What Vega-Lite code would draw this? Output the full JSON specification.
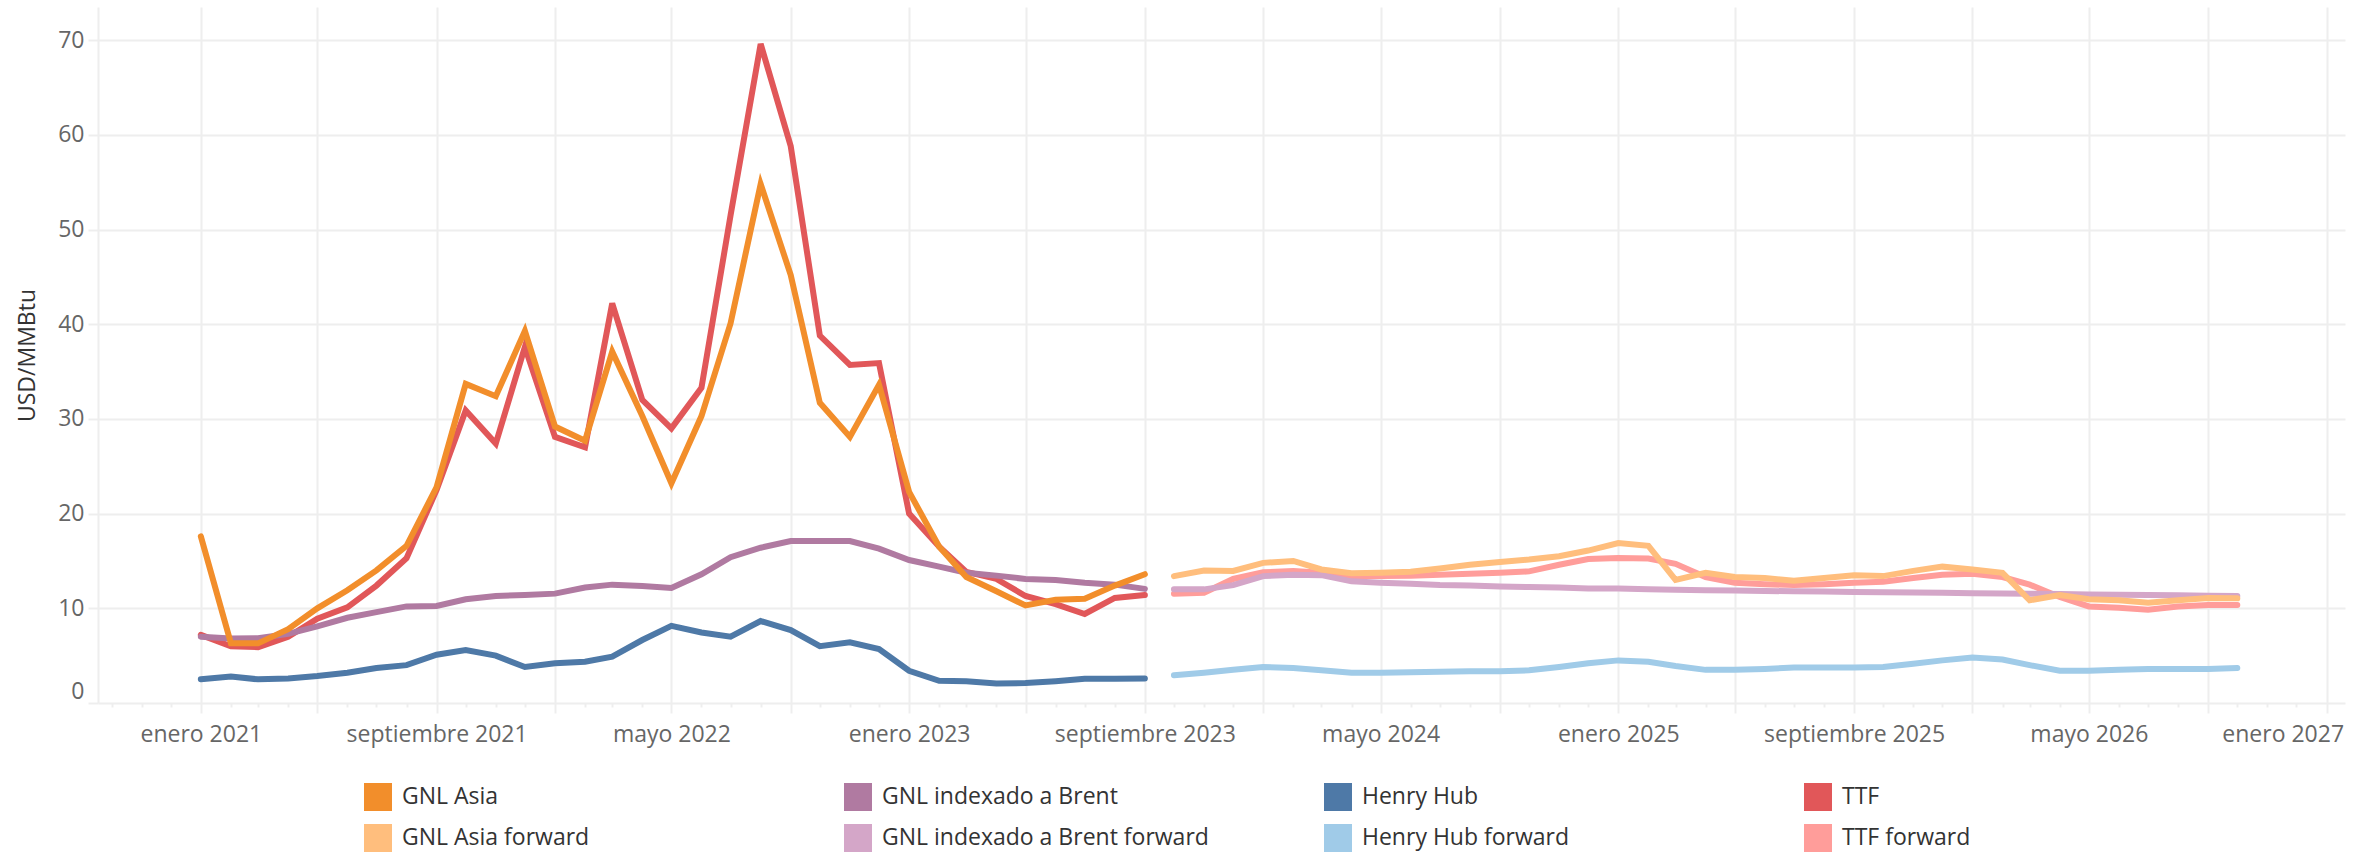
{
"$schema": "https://vega.github.io/schema/vega-lite/v6.json",
"width": 2247, "height": 696,
"autosize": {"type": "none"},
"padding": {"left": 98, "top": 7, "right": 29, "bottom": 151},
"background": "white",
"config": {"view": {"stroke": null}, "font": "Open Sans"},
"data": {"values": [
{"fecha":"2021-01-01","serie":"GNL Asia","valor":17.6},{"fecha":"2021-02-01","serie":"GNL Asia","valor":6.3},{"fecha":"2021-03-01","serie":"GNL Asia","valor":6.3},{"fecha":"2021-04-01","serie":"GNL Asia","valor":7.8},{"fecha":"2021-05-01","serie":"GNL Asia","valor":10.0},{"fecha":"2021-06-01","serie":"GNL Asia","valor":11.9},{"fecha":"2021-07-01","serie":"GNL Asia","valor":14.0},{"fecha":"2021-08-01","serie":"GNL Asia","valor":16.6},{"fecha":"2021-09-01","serie":"GNL Asia","valor":22.8},{"fecha":"2021-10-01","serie":"GNL Asia","valor":33.7},{"fecha":"2021-11-01","serie":"GNL Asia","valor":32.4},{"fecha":"2021-12-01","serie":"GNL Asia","valor":39.3},
{"fecha":"2022-01-01","serie":"GNL Asia","valor":29.2},{"fecha":"2022-02-01","serie":"GNL Asia","valor":27.7},{"fecha":"2022-03-01","serie":"GNL Asia","valor":37.1},{"fecha":"2022-04-01","serie":"GNL Asia","valor":30.3},{"fecha":"2022-05-01","serie":"GNL Asia","valor":23.2},{"fecha":"2022-06-01","serie":"GNL Asia","valor":30.3},{"fecha":"2022-07-01","serie":"GNL Asia","valor":40.1},{"fecha":"2022-08-01","serie":"GNL Asia","valor":54.8},{"fecha":"2022-09-01","serie":"GNL Asia","valor":45.2},{"fecha":"2022-10-01","serie":"GNL Asia","valor":31.7},{"fecha":"2022-11-01","serie":"GNL Asia","valor":28.1},{"fecha":"2022-12-01","serie":"GNL Asia","valor":33.6},
{"fecha":"2023-01-01","serie":"GNL Asia","valor":22.3},{"fecha":"2023-02-01","serie":"GNL Asia","valor":16.5},{"fecha":"2023-03-01","serie":"GNL Asia","valor":13.3},{"fecha":"2023-04-01","serie":"GNL Asia","valor":11.8},{"fecha":"2023-05-01","serie":"GNL Asia","valor":10.3},{"fecha":"2023-06-01","serie":"GNL Asia","valor":10.9},{"fecha":"2023-07-01","serie":"GNL Asia","valor":11.0},{"fecha":"2023-08-01","serie":"GNL Asia","valor":12.4},{"fecha":"2023-09-01","serie":"GNL Asia","valor":13.6},
{"fecha":"2021-01-01","serie":"TTF","valor":7.2},{"fecha":"2021-02-01","serie":"TTF","valor":6.0},{"fecha":"2021-03-01","serie":"TTF","valor":5.9},{"fecha":"2021-04-01","serie":"TTF","valor":7.0},{"fecha":"2021-05-01","serie":"TTF","valor":8.9},{"fecha":"2021-06-01","serie":"TTF","valor":10.1},{"fecha":"2021-07-01","serie":"TTF","valor":12.4},{"fecha":"2021-08-01","serie":"TTF","valor":15.3},{"fecha":"2021-09-01","serie":"TTF","valor":22.5},{"fecha":"2021-10-01","serie":"TTF","valor":30.9},{"fecha":"2021-11-01","serie":"TTF","valor":27.4},{"fecha":"2021-12-01","serie":"TTF","valor":37.6},
{"fecha":"2022-01-01","serie":"TTF","valor":28.1},{"fecha":"2022-02-01","serie":"TTF","valor":27.0},{"fecha":"2022-03-01","serie":"TTF","valor":42.2},{"fecha":"2022-04-01","serie":"TTF","valor":32.0},{"fecha":"2022-05-01","serie":"TTF","valor":29.0},{"fecha":"2022-06-01","serie":"TTF","valor":33.3},{"fecha":"2022-07-01","serie":"TTF","valor":51.5},{"fecha":"2022-08-01","serie":"TTF","valor":69.6},{"fecha":"2022-09-01","serie":"TTF","valor":58.8},{"fecha":"2022-10-01","serie":"TTF","valor":38.8},{"fecha":"2022-11-01","serie":"TTF","valor":35.7},{"fecha":"2022-12-01","serie":"TTF","valor":35.9},
{"fecha":"2023-01-01","serie":"TTF","valor":20.0},{"fecha":"2023-02-01","serie":"TTF","valor":16.5},{"fecha":"2023-03-01","serie":"TTF","valor":13.85},{"fecha":"2023-04-01","serie":"TTF","valor":13.1},{"fecha":"2023-05-01","serie":"TTF","valor":11.3},{"fecha":"2023-06-01","serie":"TTF","valor":10.45},{"fecha":"2023-07-01","serie":"TTF","valor":9.4},{"fecha":"2023-08-01","serie":"TTF","valor":11.1},{"fecha":"2023-09-01","serie":"TTF","valor":11.4},
{"fecha":"2021-01-01","serie":"GNL indexado a Brent","valor":7.0},{"fecha":"2021-02-01","serie":"GNL indexado a Brent","valor":6.8},{"fecha":"2021-03-01","serie":"GNL indexado a Brent","valor":6.85},{"fecha":"2021-04-01","serie":"GNL indexado a Brent","valor":7.3},{"fecha":"2021-05-01","serie":"GNL indexado a Brent","valor":8.1},{"fecha":"2021-06-01","serie":"GNL indexado a Brent","valor":9.0},{"fecha":"2021-07-01","serie":"GNL indexado a Brent","valor":9.6},{"fecha":"2021-08-01","serie":"GNL indexado a Brent","valor":10.2},{"fecha":"2021-09-01","serie":"GNL indexado a Brent","valor":10.25},{"fecha":"2021-10-01","serie":"GNL indexado a Brent","valor":10.95},{"fecha":"2021-11-01","serie":"GNL indexado a Brent","valor":11.3},{"fecha":"2021-12-01","serie":"GNL indexado a Brent","valor":11.4},
{"fecha":"2022-01-01","serie":"GNL indexado a Brent","valor":11.55},{"fecha":"2022-02-01","serie":"GNL indexado a Brent","valor":12.2},{"fecha":"2022-03-01","serie":"GNL indexado a Brent","valor":12.5},{"fecha":"2022-04-01","serie":"GNL indexado a Brent","valor":12.35},{"fecha":"2022-05-01","serie":"GNL indexado a Brent","valor":12.15},{"fecha":"2022-06-01","serie":"GNL indexado a Brent","valor":13.6},{"fecha":"2022-07-01","serie":"GNL indexado a Brent","valor":15.4},{"fecha":"2022-08-01","serie":"GNL indexado a Brent","valor":16.4},{"fecha":"2022-09-01","serie":"GNL indexado a Brent","valor":17.1},{"fecha":"2022-10-01","serie":"GNL indexado a Brent","valor":17.1},{"fecha":"2022-11-01","serie":"GNL indexado a Brent","valor":17.1},{"fecha":"2022-12-01","serie":"GNL indexado a Brent","valor":16.3},
{"fecha":"2023-01-01","serie":"GNL indexado a Brent","valor":15.1},{"fecha":"2023-02-01","serie":"GNL indexado a Brent","valor":14.4},{"fecha":"2023-03-01","serie":"GNL indexado a Brent","valor":13.75},{"fecha":"2023-04-01","serie":"GNL indexado a Brent","valor":13.45},{"fecha":"2023-05-01","serie":"GNL indexado a Brent","valor":13.1},{"fecha":"2023-06-01","serie":"GNL indexado a Brent","valor":13.0},{"fecha":"2023-07-01","serie":"GNL indexado a Brent","valor":12.7},{"fecha":"2023-08-01","serie":"GNL indexado a Brent","valor":12.5},{"fecha":"2023-09-01","serie":"GNL indexado a Brent","valor":12.05},
{"fecha":"2021-01-01","serie":"Henry Hub","valor":2.5},{"fecha":"2021-02-01","serie":"Henry Hub","valor":2.8},{"fecha":"2021-03-01","serie":"Henry Hub","valor":2.5},{"fecha":"2021-04-01","serie":"Henry Hub","valor":2.6},{"fecha":"2021-05-01","serie":"Henry Hub","valor":2.85},{"fecha":"2021-06-01","serie":"Henry Hub","valor":3.2},{"fecha":"2021-07-01","serie":"Henry Hub","valor":3.7},{"fecha":"2021-08-01","serie":"Henry Hub","valor":4.0},{"fecha":"2021-09-01","serie":"Henry Hub","valor":5.1},{"fecha":"2021-10-01","serie":"Henry Hub","valor":5.6},{"fecha":"2021-11-01","serie":"Henry Hub","valor":5.0},{"fecha":"2021-12-01","serie":"Henry Hub","valor":3.8},
{"fecha":"2022-01-01","serie":"Henry Hub","valor":4.2},{"fecha":"2022-02-01","serie":"Henry Hub","valor":4.35},{"fecha":"2022-03-01","serie":"Henry Hub","valor":4.9},{"fecha":"2022-04-01","serie":"Henry Hub","valor":6.65},{"fecha":"2022-05-01","serie":"Henry Hub","valor":8.15},{"fecha":"2022-06-01","serie":"Henry Hub","valor":7.45},{"fecha":"2022-07-01","serie":"Henry Hub","valor":7.0},{"fecha":"2022-08-01","serie":"Henry Hub","valor":8.65},{"fecha":"2022-09-01","serie":"Henry Hub","valor":7.7},{"fecha":"2022-10-01","serie":"Henry Hub","valor":6.0},{"fecha":"2022-11-01","serie":"Henry Hub","valor":6.4},{"fecha":"2022-12-01","serie":"Henry Hub","valor":5.7},
{"fecha":"2023-01-01","serie":"Henry Hub","valor":3.4},{"fecha":"2023-02-01","serie":"Henry Hub","valor":2.35},{"fecha":"2023-03-01","serie":"Henry Hub","valor":2.3},{"fecha":"2023-04-01","serie":"Henry Hub","valor":2.05},{"fecha":"2023-05-01","serie":"Henry Hub","valor":2.1},{"fecha":"2023-06-01","serie":"Henry Hub","valor":2.3},{"fecha":"2023-07-01","serie":"Henry Hub","valor":2.55},{"fecha":"2023-08-01","serie":"Henry Hub","valor":2.55},{"fecha":"2023-09-01","serie":"Henry Hub","valor":2.6},
{"fecha":"2023-10-01","serie":"GNL Asia forward","valor":13.4},{"fecha":"2023-11-01","serie":"GNL Asia forward","valor":14.0},{"fecha":"2023-12-01","serie":"GNL Asia forward","valor":13.95},{"fecha":"2024-01-01","serie":"GNL Asia forward","valor":14.8},{"fecha":"2024-02-01","serie":"GNL Asia forward","valor":15.0},{"fecha":"2024-03-01","serie":"GNL Asia forward","valor":14.1},{"fecha":"2024-04-01","serie":"GNL Asia forward","valor":13.7},{"fecha":"2024-05-01","serie":"GNL Asia forward","valor":13.75},{"fecha":"2024-06-01","serie":"GNL Asia forward","valor":13.85},{"fecha":"2024-07-01","serie":"GNL Asia forward","valor":14.2},{"fecha":"2024-08-01","serie":"GNL Asia forward","valor":14.6},{"fecha":"2024-09-01","serie":"GNL Asia forward","valor":14.9},{"fecha":"2024-10-01","serie":"GNL Asia forward","valor":15.15},{"fecha":"2024-11-01","serie":"GNL Asia forward","valor":15.5},{"fecha":"2024-12-01","serie":"GNL Asia forward","valor":16.1},
{"fecha":"2025-01-01","serie":"GNL Asia forward","valor":16.9},{"fecha":"2025-02-01","serie":"GNL Asia forward","valor":16.6},{"fecha":"2025-03-01","serie":"GNL Asia forward","valor":13.0},{"fecha":"2025-04-01","serie":"GNL Asia forward","valor":13.75},{"fecha":"2025-05-01","serie":"GNL Asia forward","valor":13.3},{"fecha":"2025-06-01","serie":"GNL Asia forward","valor":13.2},{"fecha":"2025-07-01","serie":"GNL Asia forward","valor":12.9},{"fecha":"2025-08-01","serie":"GNL Asia forward","valor":13.2},{"fecha":"2025-09-01","serie":"GNL Asia forward","valor":13.5},{"fecha":"2025-10-01","serie":"GNL Asia forward","valor":13.4},{"fecha":"2025-11-01","serie":"GNL Asia forward","valor":13.95},{"fecha":"2025-12-01","serie":"GNL Asia forward","valor":14.4},
{"fecha":"2026-01-01","serie":"GNL Asia forward","valor":14.1},{"fecha":"2026-02-01","serie":"GNL Asia forward","valor":13.75},{"fecha":"2026-03-01","serie":"GNL Asia forward","valor":10.85},{"fecha":"2026-04-01","serie":"GNL Asia forward","valor":11.4},{"fecha":"2026-05-01","serie":"GNL Asia forward","valor":10.95},{"fecha":"2026-06-01","serie":"GNL Asia forward","valor":10.85},{"fecha":"2026-07-01","serie":"GNL Asia forward","valor":10.6},{"fecha":"2026-08-01","serie":"GNL Asia forward","valor":10.85},{"fecha":"2026-09-01","serie":"GNL Asia forward","valor":11.1},{"fecha":"2026-10-01","serie":"GNL Asia forward","valor":11.05},
{"fecha":"2023-10-01","serie":"TTF forward","valor":11.55},{"fecha":"2023-11-01","serie":"TTF forward","valor":11.65},{"fecha":"2023-12-01","serie":"TTF forward","valor":13.1},{"fecha":"2024-01-01","serie":"TTF forward","valor":13.8},{"fecha":"2024-02-01","serie":"TTF forward","valor":13.95},{"fecha":"2024-03-01","serie":"TTF forward","valor":13.75},{"fecha":"2024-04-01","serie":"TTF forward","valor":13.4},{"fecha":"2024-05-01","serie":"TTF forward","valor":13.4},{"fecha":"2024-06-01","serie":"TTF forward","valor":13.45},{"fecha":"2024-07-01","serie":"TTF forward","valor":13.55},{"fecha":"2024-08-01","serie":"TTF forward","valor":13.65},{"fecha":"2024-09-01","serie":"TTF forward","valor":13.75},{"fecha":"2024-10-01","serie":"TTF forward","valor":13.9},{"fecha":"2024-11-01","serie":"TTF forward","valor":14.6},{"fecha":"2024-12-01","serie":"TTF forward","valor":15.2},
{"fecha":"2025-01-01","serie":"TTF forward","valor":15.3},{"fecha":"2025-02-01","serie":"TTF forward","valor":15.25},{"fecha":"2025-03-01","serie":"TTF forward","valor":14.7},{"fecha":"2025-04-01","serie":"TTF forward","valor":13.3},{"fecha":"2025-05-01","serie":"TTF forward","valor":12.7},{"fecha":"2025-06-01","serie":"TTF forward","valor":12.55},{"fecha":"2025-07-01","serie":"TTF forward","valor":12.45},{"fecha":"2025-08-01","serie":"TTF forward","valor":12.55},{"fecha":"2025-09-01","serie":"TTF forward","valor":12.7},{"fecha":"2025-10-01","serie":"TTF forward","valor":12.8},{"fecha":"2025-11-01","serie":"TTF forward","valor":13.2},{"fecha":"2025-12-01","serie":"TTF forward","valor":13.55},
{"fecha":"2026-01-01","serie":"TTF forward","valor":13.65},{"fecha":"2026-02-01","serie":"TTF forward","valor":13.3},{"fecha":"2026-03-01","serie":"TTF forward","valor":12.5},{"fecha":"2026-04-01","serie":"TTF forward","valor":11.2},{"fecha":"2026-05-01","serie":"TTF forward","valor":10.2},{"fecha":"2026-06-01","serie":"TTF forward","valor":10.05},{"fecha":"2026-07-01","serie":"TTF forward","valor":9.85},{"fecha":"2026-08-01","serie":"TTF forward","valor":10.2},{"fecha":"2026-09-01","serie":"TTF forward","valor":10.35},{"fecha":"2026-10-01","serie":"TTF forward","valor":10.35},
{"fecha":"2023-10-01","serie":"GNL indexado a Brent forward","valor":12.0},{"fecha":"2023-11-01","serie":"GNL indexado a Brent forward","valor":12.0},{"fecha":"2023-12-01","serie":"GNL indexado a Brent forward","valor":12.45},{"fecha":"2024-01-01","serie":"GNL indexado a Brent forward","valor":13.4},{"fecha":"2024-02-01","serie":"GNL indexado a Brent forward","valor":13.55},{"fecha":"2024-03-01","serie":"GNL indexado a Brent forward","valor":13.5},{"fecha":"2024-04-01","serie":"GNL indexado a Brent forward","valor":12.85},{"fecha":"2024-05-01","serie":"GNL indexado a Brent forward","valor":12.7},{"fecha":"2024-06-01","serie":"GNL indexado a Brent forward","valor":12.6},{"fecha":"2024-07-01","serie":"GNL indexado a Brent forward","valor":12.45},{"fecha":"2024-08-01","serie":"GNL indexado a Brent forward","valor":12.4},{"fecha":"2024-09-01","serie":"GNL indexado a Brent forward","valor":12.3},{"fecha":"2024-10-01","serie":"GNL indexado a Brent forward","valor":12.25},{"fecha":"2024-11-01","serie":"GNL indexado a Brent forward","valor":12.2},{"fecha":"2024-12-01","serie":"GNL indexado a Brent forward","valor":12.1},
{"fecha":"2025-01-01","serie":"GNL indexado a Brent forward","valor":12.1},{"fecha":"2025-02-01","serie":"GNL indexado a Brent forward","valor":12.0},{"fecha":"2025-03-01","serie":"GNL indexado a Brent forward","valor":11.97},{"fecha":"2025-04-01","serie":"GNL indexado a Brent forward","valor":11.9},{"fecha":"2025-05-01","serie":"GNL indexado a Brent forward","valor":11.87},{"fecha":"2025-06-01","serie":"GNL indexado a Brent forward","valor":11.83},{"fecha":"2025-07-01","serie":"GNL indexado a Brent forward","valor":11.8},{"fecha":"2025-08-01","serie":"GNL indexado a Brent forward","valor":11.77},{"fecha":"2025-09-01","serie":"GNL indexado a Brent forward","valor":11.73},{"fecha":"2025-10-01","serie":"GNL indexado a Brent forward","valor":11.7},{"fecha":"2025-11-01","serie":"GNL indexado a Brent forward","valor":11.67},{"fecha":"2025-12-01","serie":"GNL indexado a Brent forward","valor":11.63},
{"fecha":"2026-01-01","serie":"GNL indexado a Brent forward","valor":11.6},{"fecha":"2026-02-01","serie":"GNL indexado a Brent forward","valor":11.57},{"fecha":"2026-03-01","serie":"GNL indexado a Brent forward","valor":11.53},{"fecha":"2026-04-01","serie":"GNL indexado a Brent forward","valor":11.5},{"fecha":"2026-05-01","serie":"GNL indexado a Brent forward","valor":11.45},{"fecha":"2026-06-01","serie":"GNL indexado a Brent forward","valor":11.42},{"fecha":"2026-07-01","serie":"GNL indexado a Brent forward","valor":11.4},{"fecha":"2026-08-01","serie":"GNL indexado a Brent forward","valor":11.37},{"fecha":"2026-09-01","serie":"GNL indexado a Brent forward","valor":11.33},{"fecha":"2026-10-01","serie":"GNL indexado a Brent forward","valor":11.3},
{"fecha":"2023-10-01","serie":"Henry Hub forward","valor":2.93},{"fecha":"2023-11-01","serie":"Henry Hub forward","valor":3.2},{"fecha":"2023-12-01","serie":"Henry Hub forward","valor":3.5},{"fecha":"2024-01-01","serie":"Henry Hub forward","valor":3.8},{"fecha":"2024-02-01","serie":"Henry Hub forward","valor":3.7},{"fecha":"2024-03-01","serie":"Henry Hub forward","valor":3.45},{"fecha":"2024-04-01","serie":"Henry Hub forward","valor":3.2},{"fecha":"2024-05-01","serie":"Henry Hub forward","valor":3.2},{"fecha":"2024-06-01","serie":"Henry Hub forward","valor":3.25},{"fecha":"2024-07-01","serie":"Henry Hub forward","valor":3.3},{"fecha":"2024-08-01","serie":"Henry Hub forward","valor":3.35},{"fecha":"2024-09-01","serie":"Henry Hub forward","valor":3.35},{"fecha":"2024-10-01","serie":"Henry Hub forward","valor":3.45},{"fecha":"2024-11-01","serie":"Henry Hub forward","valor":3.8},{"fecha":"2024-12-01","serie":"Henry Hub forward","valor":4.2},
{"fecha":"2025-01-01","serie":"Henry Hub forward","valor":4.5},{"fecha":"2025-02-01","serie":"Henry Hub forward","valor":4.35},{"fecha":"2025-03-01","serie":"Henry Hub forward","valor":3.9},{"fecha":"2025-04-01","serie":"Henry Hub forward","valor":3.5},{"fecha":"2025-05-01","serie":"Henry Hub forward","valor":3.5},{"fecha":"2025-06-01","serie":"Henry Hub forward","valor":3.6},{"fecha":"2025-07-01","serie":"Henry Hub forward","valor":3.75},{"fecha":"2025-08-01","serie":"Henry Hub forward","valor":3.75},{"fecha":"2025-09-01","serie":"Henry Hub forward","valor":3.75},{"fecha":"2025-10-01","serie":"Henry Hub forward","valor":3.8},{"fecha":"2025-11-01","serie":"Henry Hub forward","valor":4.15},{"fecha":"2025-12-01","serie":"Henry Hub forward","valor":4.5},
{"fecha":"2026-01-01","serie":"Henry Hub forward","valor":4.8},{"fecha":"2026-02-01","serie":"Henry Hub forward","valor":4.6},{"fecha":"2026-03-01","serie":"Henry Hub forward","valor":4.0},{"fecha":"2026-04-01","serie":"Henry Hub forward","valor":3.4},{"fecha":"2026-05-01","serie":"Henry Hub forward","valor":3.4},{"fecha":"2026-06-01","serie":"Henry Hub forward","valor":3.5},{"fecha":"2026-07-01","serie":"Henry Hub forward","valor":3.6},{"fecha":"2026-08-01","serie":"Henry Hub forward","valor":3.6},{"fecha":"2026-09-01","serie":"Henry Hub forward","valor":3.6},{"fecha":"2026-10-01","serie":"Henry Hub forward","valor":3.7}
]},
"encoding": {
  "y": {"field": "valor", "type": "quantitative",
    "scale": {"domain": [0, 73.5], "nice": false, "zero": false},
    "axis": {"values": [0,10,20,30,40,50,60,70], "title": "USD/MMBtu", "titleFontSize": 23, "titleFontWeight": "normal", "titleColor": "#333333", "titlePadding": 18,
      "grid": true, "gridColor": "#eeeeee", "gridWidth": 2,
      "domain": true, "domainColor": "#eeeeee", "domainWidth": 2,
      "ticks": true, "tickSize": 10, "tickColor": "#eeeeee", "tickWidth": 2,
      "labelFontSize": 23, "labelColor": "#666666", "labelPadding": 4,
      "labelBaseline": {"condition": {"test": "datum.value == 0", "value": "bottom"}, "value": "middle"}}},
  "color": {"field": "serie", "type": "nominal",
    "scale": {"domain": ["GNL Asia","GNL indexado a Brent","Henry Hub","TTF","GNL Asia forward","GNL indexado a Brent forward","Henry Hub forward","TTF forward"],
              "range": ["#F28E2B","#B07AA1","#4E79A7","#E15759","#FFBE7D","#D4A6C8","#A0CBE8","#FF9D9A"]},
    "legend": {"orient": "none", "legendX": 266, "legendY": 776, "direction": "horizontal", "columns": 4, "gridAlign": "all",
      "columnPadding": 115, "rowPadding": 13, "padding": 0, "title": null,
      "labelFontSize": 23, "labelColor": "#333333", "labelLimit": 600, "labelOffset": 10,
      "symbolType": "square", "symbolSize": 784, "symbolStrokeWidth": 0,
      "encode": {"symbols": {"update": {"fill": {"scale": "color", "field": "value"}, "fillOpacity": {"value": 1}, "opacity": {"value": 1}}}}}}
},
"resolve": {"axis": {"x": "independent"}},
"layer": [
  {"transform": [{"filter": "datum.serie == 'TTF' || datum.serie == 'TTF forward'"}],
   "mark": {"type": "line", "strokeWidth": 6, "strokeCap": "round"},
   "encoding": {"x": {"field": "fecha", "type": "temporal",
      "scale": {"type": "utc", "domain": [{"year": 2020, "month": 9, "date": 17, "utc": true}, {"year": 2027, "month": 1, "date": 20, "utc": true}]},
      "axis": {"orient": "bottom", "title": null,
        "values": [{"year":2021,"month":1,"date":1,"utc":true},{"year":2021,"month":5,"date":1,"utc":true},{"year":2021,"month":9,"date":1,"utc":true},{"year":2022,"month":1,"date":1,"utc":true},{"year":2022,"month":5,"date":1,"utc":true},{"year":2022,"month":9,"date":1,"utc":true},{"year":2023,"month":1,"date":1,"utc":true},{"year":2023,"month":5,"date":1,"utc":true},{"year":2023,"month":9,"date":1,"utc":true},{"year":2024,"month":1,"date":1,"utc":true},{"year":2024,"month":5,"date":1,"utc":true},{"year":2024,"month":9,"date":1,"utc":true},{"year":2025,"month":1,"date":1,"utc":true},{"year":2025,"month":5,"date":1,"utc":true},{"year":2025,"month":9,"date":1,"utc":true},{"year":2026,"month":1,"date":1,"utc":true},{"year":2026,"month":5,"date":1,"utc":true},{"year":2026,"month":9,"date":1,"utc":true},{"year":2027,"month":1,"date":1,"utc":true}],
        "grid": true, "gridColor": "#eeeeee", "gridWidth": 2,
        "domain": false, "ticks": true, "tickSize": 10, "tickColor": "#eeeeee", "tickWidth": 2,
        "labelFontSize": 23, "labelColor": "#666666", "labelPadding": 10, "labelOverlap": false, "labelLimit": 500,
        "labelFlush": 20, "labelFlushOffset": 17,
        "labelExpr": "(((utcyear(datum.value)-2021)*12+utcmonth(datum.value))%8==0) ? ['enero','febrero','marzo','abril','mayo','junio','julio','agosto','septiembre','octubre','noviembre','diciembre'][utcmonth(datum.value)] + ' ' + utcyear(datum.value) : ''"}}}},
  {"transform": [{"filter": "datum.serie == 'Henry Hub' || datum.serie == 'Henry Hub forward'"}],
   "mark": {"type": "line", "strokeWidth": 6, "strokeCap": "round"},
   "encoding": {"x": {"field": "fecha", "type": "temporal",
      "scale": {"type": "utc", "domain": [{"year": 2020, "month": 9, "date": 17, "utc": true}, {"year": 2027, "month": 1, "date": 20, "utc": true}]},
      "axis": {"orient": "bottom", "title": null, "labels": false, "grid": false, "domain": false,
        "ticks": true, "tickSize": 4, "tickColor": "#eeeeee", "tickWidth": 2,
        "values": [{"year":2020,"month":10,"date":1,"utc":true},{"year":2020,"month":11,"date":1,"utc":true},{"year":2020,"month":12,"date":1,"utc":true},
          {"year":2021,"month":2,"date":1,"utc":true},{"year":2021,"month":3,"date":1,"utc":true},{"year":2021,"month":4,"date":1,"utc":true},{"year":2021,"month":6,"date":1,"utc":true},{"year":2021,"month":7,"date":1,"utc":true},{"year":2021,"month":8,"date":1,"utc":true},{"year":2021,"month":10,"date":1,"utc":true},{"year":2021,"month":11,"date":1,"utc":true},{"year":2021,"month":12,"date":1,"utc":true},
          {"year":2022,"month":2,"date":1,"utc":true},{"year":2022,"month":3,"date":1,"utc":true},{"year":2022,"month":4,"date":1,"utc":true},{"year":2022,"month":6,"date":1,"utc":true},{"year":2022,"month":7,"date":1,"utc":true},{"year":2022,"month":8,"date":1,"utc":true},{"year":2022,"month":10,"date":1,"utc":true},{"year":2022,"month":11,"date":1,"utc":true},{"year":2022,"month":12,"date":1,"utc":true},
          {"year":2023,"month":2,"date":1,"utc":true},{"year":2023,"month":3,"date":1,"utc":true},{"year":2023,"month":4,"date":1,"utc":true},{"year":2023,"month":6,"date":1,"utc":true},{"year":2023,"month":7,"date":1,"utc":true},{"year":2023,"month":8,"date":1,"utc":true},{"year":2023,"month":10,"date":1,"utc":true},{"year":2023,"month":11,"date":1,"utc":true},{"year":2023,"month":12,"date":1,"utc":true},
          {"year":2024,"month":2,"date":1,"utc":true},{"year":2024,"month":3,"date":1,"utc":true},{"year":2024,"month":4,"date":1,"utc":true},{"year":2024,"month":6,"date":1,"utc":true},{"year":2024,"month":7,"date":1,"utc":true},{"year":2024,"month":8,"date":1,"utc":true},{"year":2024,"month":10,"date":1,"utc":true},{"year":2024,"month":11,"date":1,"utc":true},{"year":2024,"month":12,"date":1,"utc":true},
          {"year":2025,"month":2,"date":1,"utc":true},{"year":2025,"month":3,"date":1,"utc":true},{"year":2025,"month":4,"date":1,"utc":true},{"year":2025,"month":6,"date":1,"utc":true},{"year":2025,"month":7,"date":1,"utc":true},{"year":2025,"month":8,"date":1,"utc":true},{"year":2025,"month":10,"date":1,"utc":true},{"year":2025,"month":11,"date":1,"utc":true},{"year":2025,"month":12,"date":1,"utc":true},
          {"year":2026,"month":2,"date":1,"utc":true},{"year":2026,"month":3,"date":1,"utc":true},{"year":2026,"month":4,"date":1,"utc":true},{"year":2026,"month":6,"date":1,"utc":true},{"year":2026,"month":7,"date":1,"utc":true},{"year":2026,"month":8,"date":1,"utc":true},{"year":2026,"month":10,"date":1,"utc":true},{"year":2026,"month":11,"date":1,"utc":true},{"year":2026,"month":12,"date":1,"utc":true}]}}}},
  {"transform": [{"filter": "datum.serie == 'GNL indexado a Brent' || datum.serie == 'GNL indexado a Brent forward'"}],
   "mark": {"type": "line", "strokeWidth": 6, "strokeCap": "round"},
   "encoding": {"x": {"field": "fecha", "type": "temporal",
      "scale": {"type": "utc", "domain": [{"year": 2020, "month": 9, "date": 17, "utc": true}, {"year": 2027, "month": 1, "date": 20, "utc": true}]},
      "axis": null}}},
  {"transform": [{"filter": "datum.serie == 'GNL Asia' || datum.serie == 'GNL Asia forward'"}],
   "mark": {"type": "line", "strokeWidth": 6, "strokeCap": "round"},
   "encoding": {"x": {"field": "fecha", "type": "temporal",
      "scale": {"type": "utc", "domain": [{"year": 2020, "month": 9, "date": 17, "utc": true}, {"year": 2027, "month": 1, "date": 20, "utc": true}]},
      "axis": null}}}
]
}
